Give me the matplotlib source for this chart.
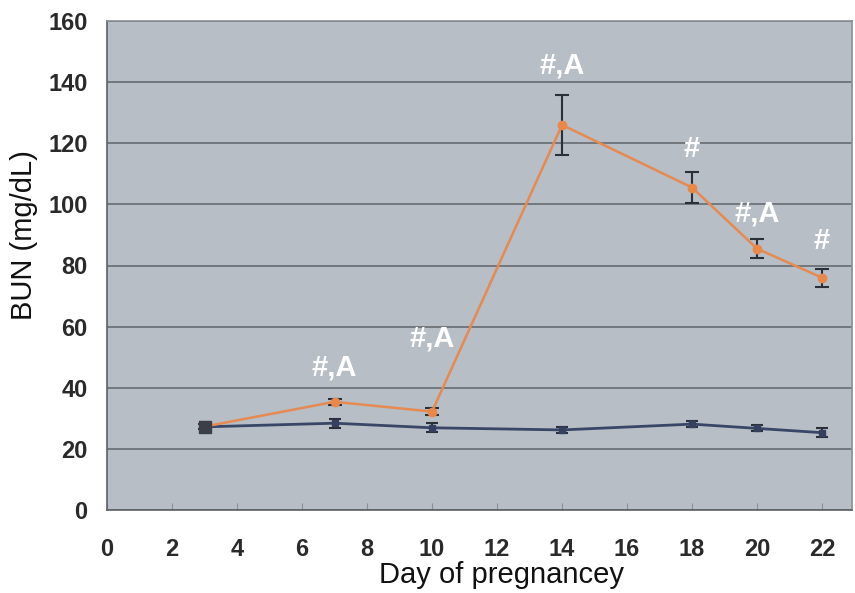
import matplotlib
matplotlib.use("Agg")
import matplotlib.pyplot as plt

# days of pregnancy
days = [3, 7, 10, 14, 18, 20, 22]

# BUN (mg/dL), treated group (orange) and control (blue)
treat_mean = [27.3, 35.4, 32.2, 126.0, 105.5, 85.5, 76.0]
treat_err = [0.8, 1.0, 1.2, 9.8, 5.0, 3.2, 3.0]
ctrl_mean = [27.2, 28.4, 26.9, 26.2, 28.1, 26.7, 25.3]
ctrl_err = [1.5, 1.5, 1.5, 1.0, 1.0, 1.0, 1.5]

# significance marks over the treated points
mark_text = ["#,A", "#,A", "#,A", "#", "#,A", "#"]
mark_x = [7, 10, 14, 18, 20, 22]
mark_y = [46.5, 56, 145.5, 118, 97, 88]

xticks = [0, 2, 4, 6, 8, 10, 12, 14, 16, 18, 20, 22]
yticks = [0, 20, 40, 60, 80, 100, 120, 140, 160]

plt.rcParams['font.family'] = ['Liberation Sans', 'DejaVu Sans']

fig = plt.figure(figsize=(8.55, 5.93), dpi=100)
ax = fig.add_axes([107/855, 1-510/593, (852-107)/855, (510-21)/593])
ax.set_facecolor('#b7bec5')

ax.set_xlim(0, 22.92)
ax.set_ylim(0, 160)
ax.set_yticks(yticks)
ax.set_xticks(xticks)
ax.yaxis.grid(True, color='#666c72', lw=1.2)
ax.set_axisbelow(True)

ax.errorbar(days, ctrl_mean, yerr=ctrl_err, color='#3a4668', lw=2,
            marker='s', ms=5, mfc='#34405e', mec='#34405e',
            ecolor='#2a2f3a', elinewidth=1.5, capsize=4, capthick=1.5, zorder=3)
ax.errorbar(days, treat_mean, yerr=treat_err, color='#e58a52', lw=1.8,
            marker='o', ms=6, mfc='#e8884a', mec='#e8884a',
            ecolor='#2a2f3a', elinewidth=1.5, capsize=5, capthick=1.5, zorder=4)
# first point of control overlays in a darker square
ax.plot(days[:1], ctrl_mean[:1], 's', ms=9, color='#3c3f48', zorder=5)

for t, x, y in zip(mark_text, mark_x, mark_y):
    ax.text(x, y, t, color='white', fontsize=21, fontweight='bold',
            ha='center', va='center', zorder=6)

for s in ax.spines.values():
    s.set_color('#888e94')
    s.set_linewidth(1.2)
ax.spines['bottom'].set_color('#5c6166')
ax.spines['left'].set_color('#5c6166')

ax.tick_params(axis='y', length=0, pad=14, labelsize=17, colors='#2a2a2a')
ax.tick_params(axis='x', direction='in', length=5, color='#8a9096',
               pad=20, labelsize=17, labelcolor='#2a2a2a')
for lab in ax.get_xticklabels() + ax.get_yticklabels():
    lab.set_fontweight('bold')
    lab.set_fontfamily(['Liberation Sans Narrow', 'Liberation Sans'])

ax.set_xlabel('Day of pregnancey', fontsize=21, color='#111111')
ax.set_ylabel('BUN (mg/dL)', fontsize=21, color='#111111')
ax.xaxis.label.set_va('center')
ax.yaxis.label.set_va('center')
ax.xaxis.set_label_coords(0.529, -0.133)
ax.yaxis.set_label_coords(-0.111, 0.562)

fig.savefig('out.png', dpi=100, facecolor='white')
